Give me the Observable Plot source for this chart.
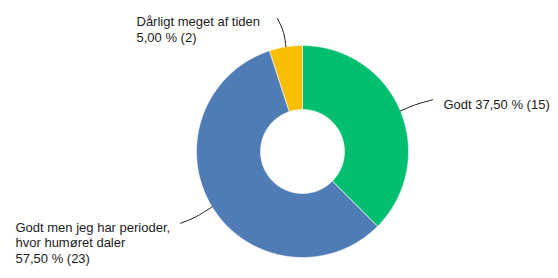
<!DOCTYPE html>
<html><head><meta charset="utf-8">
<script src="https://cdn.jsdelivr.net/npm/d3@7"></script>
<script src="https://cdn.jsdelivr.net/npm/@observablehq/plot@0.6"></script>
<style>body{margin:0;background:#fff;overflow:hidden}</style>
</head><body><div id="chart"></div>
<script>
// ---- data ----
const categories = ["Godt", "Godt men jeg har perioder, hvor humøret daler", "Dårligt meget af tiden"];
const labelLines = ["Godt", "Godt men jeg har perioder,\nhvor humøret daler", "Dårligt meget af tiden"];
const percents = [37.5, 57.5, 5.0];
const counts = [15, 23, 2];
const colors = ["#00bf6f", "#507cb6", "#f9be00"];

// ---- layout ----
const W = 558, H = 278, cx = 302, cy = 151, R = 106, r0 = 42;
const inner = r0 / R;
const seps = [" ", "\n", "\n"];
// label anchor (pixel offsets from center) and leader bend points
const labelPos = [[443, 108.5], [15, 262.5], [136, 41.5]];
const leaderMid = [[415, 104.2], [195, 216.5], [283, 32]];
const leaderEnd = [[432, 99.3], [180, 222.7], [277, 18]];
const u = (px) => (px - cx) / R, v = (py) => (py - cy) / R;

const fmt = (p) => d3.format(".2f")(p).replace(".", ",") + " %";
const total = d3.sum(percents);

let acc = 0;
const slices = percents.map((p, i) => {
  const a0 = acc / total * 2 * Math.PI;
  acc += p;
  const a1 = acc / total * 2 * Math.PI;
  return {i, a0, a1, mid: (a0 + a1) / 2};
});

const marks = [];
for (const s of slices) {
  const pts = [];
  const n = Math.max(8, Math.ceil((s.a1 - s.a0) / 0.01));
  for (let k = 0; k <= n; k++) {
    const a = s.a0 + (s.a1 - s.a0) * k / n;
    pts.push({x: Math.sin(a), y: -Math.cos(a)});
  }
  for (let k = n; k >= 0; k--) {
    const a = s.a0 + (s.a1 - s.a0) * k / n;
    pts.push({x: Math.sin(a) * inner, y: -Math.cos(a) * inner});
  }
  marks.push(Plot.line(pts, {x: "x", y: "y", fill: colors[s.i], stroke: "#fff", strokeWidth: 0.6, curve: "linear-closed"}));
}

const leaders = [];
slices.forEach(s => {
  leaders.push({i: s.i, x: Math.sin(s.mid), y: -Math.cos(s.mid)});
  leaders.push({i: s.i, x: u(leaderMid[s.i][0]), y: v(leaderMid[s.i][1])});
  leaders.push({i: s.i, x: u(leaderEnd[s.i][0]), y: v(leaderEnd[s.i][1])});
});
marks.push(Plot.line(leaders, {x: "x", y: "y", z: "i", stroke: "#222", strokeWidth: 1, curve: "natural"}));

const texts = categories.map((c, i) => ({
  text: labelLines[i] + seps[i] + fmt(percents[i]) + " (" + counts[i] + ")",
  x: u(labelPos[i][0]), y: v(labelPos[i][1])
}));
marks.push(Plot.text(texts, {x: "x", y: "y", text: "text", textAnchor: "start", lineAnchor: "bottom",
  lineHeight: 1.2, fontSize: 13, fill: "#1c1c1c", fontFamily: "Liberation Sans, Arial, sans-serif"}));

const chart = Plot.plot({
  width: W, height: H,
  margin: 0,
  x: {domain: [-1, 1], range: [cx - R, cx + R], axis: null},
  y: {domain: [-1, 1], range: [cy - R, cy + R], axis: null},
  style: {background: "#fff", fontFamily: "Liberation Sans, Arial, sans-serif"},
  marks
});
document.getElementById("chart").append(chart);
</script>
</body></html>
